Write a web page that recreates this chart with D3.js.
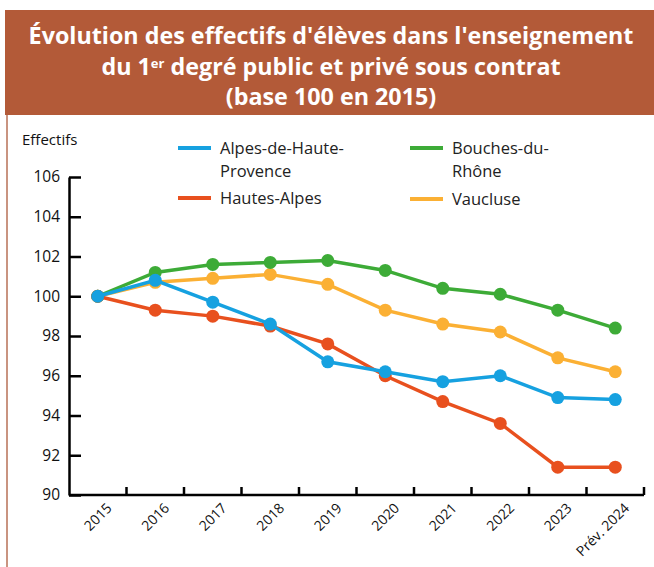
<!DOCTYPE html>
<html>
<head>
<meta charset="utf-8">
<script src="https://cdn.jsdelivr.net/npm/d3@7"></script>
<style>
  body { margin: 0; background: #fff; }
  svg { font-family: 'Open Sans', sans-serif; }
</style>
</head>
<body>
<svg width="654" height="567"></svg>
<script>
// Data
var years = ['2015', '2016', '2017', '2018', '2019', '2020', '2021', '2022', '2023', 'Prév. 2024'];
var alpesHauteProvence = [100, 100.8, 99.7, 98.6, 96.7, 96.2, 95.7, 96.0, 94.9, 94.8];
var hautesAlpes = [100, 99.3, 99.0, 98.5, 97.6, 96.0, 94.7, 93.6, 91.4, 91.4];
var bouchesDuRhone = [100, 101.2, 101.6, 101.7, 101.8, 101.3, 100.4, 100.1, 99.3, 98.4];
var vaucluse = [100, 100.7, 100.9, 101.1, 100.6, 99.3, 98.6, 98.2, 96.9, 96.2];
var yTicks = [90, 92, 94, 96, 98, 100, 102, 104, 106];

var series = [
    {name: ['Vaucluse'], values: vaucluse, color: '#fbb034'},
    {name: ['Bouches-du-', 'Rhône'], values: bouchesDuRhone, color: '#3dab37'},
    {name: ['Hautes-Alpes'], values: hautesAlpes, color: '#e8501e'},
    {name: ['Alpes-de-Haute-', 'Provence'], values: alpesHauteProvence, color: '#16a1e0'}
];

var svg = d3.select('svg');

// Title banner
svg.append('rect')
    .attr('x', 5).attr('y', 10)
    .attr('width', 649).attr('height', 105)
    .attr('fill', '#b35a38');

svg.append('line')
    .attr('x1', 7).attr('x2', 7)
    .attr('y1', 115).attr('y2', 567)
    .attr('stroke', '#c99480').attr('stroke-width', 2);

var title = svg.append('text')
    .attr('text-anchor', 'middle')
    .attr('fill', '#fff')
    .style('font-weight', 'bold')
    .style('font-size', '23.3px');
title.append('tspan').attr('x', 331).attr('y', 44)
    .text("Évolution des effectifs d'élèves dans l'enseignement");
var l2 = title.append('tspan').attr('x', 331).attr('y', 75);
l2.append('tspan').text('du 1');
l2.append('tspan').attr('dy', -7).style('font-size', '13px').text('er');
l2.append('tspan').attr('dy', 7).text(' degré public et privé sous contrat');
title.append('tspan').attr('x', 331).attr('y', 105).text('(base 100 en 2015)');

// Scales
var xScale = d3.scaleBand().domain(years).range([69, 644]);
var yScale = d3.scaleLinear().domain([90, 106]).range([495, 177]);

// Y axis
var yAxis = svg.append('g')
    .attr('transform', 'translate(69,0)')
    .call(d3.axisLeft(yScale).tickValues(yTicks).tickSizeInner(-12).tickSizeOuter(0).tickPadding(9));
yAxis.select('.domain').attr('stroke-width', 2.5);
yAxis.selectAll('.tick line').attr('stroke-width', 2.5);
yAxis.selectAll('.tick text')
    .style('font-size', '15.5px')
    .style('font-family', "'Open Sans', sans-serif")
    .attr('fill', '#111');

svg.append('text')
    .attr('x', 22).attr('y', 145)
    .style('font-size', '15px')
    .attr('fill', '#111')
    .text('Effectifs');

// X axis (ticks on band boundaries)
var xg = svg.append('g');
xg.append('line')
    .attr('x1', 69).attr('x2', xScale.range()[1])
    .attr('y1', 495).attr('y2', 495)
    .attr('stroke', '#000').attr('stroke-width', 2.5);
var bounds = years.slice(1).map(function(d) { return xScale(d); }).concat([xScale.range()[1]]);
xg.selectAll('.xtick').data(bounds).enter().append('line')
    .attr('x1', function(d) { return d; })
    .attr('x2', function(d) { return d; })
    .attr('y1', 495).attr('y2', 487)
    .attr('stroke', '#000').attr('stroke-width', 2.5);
xg.selectAll('.xlabel').data(years).enter().append('text')
    .attr('text-anchor', 'end')
    .attr('transform', function(d) {
        return 'translate(' + [xScale(d) + xScale.bandwidth() / 2 + 15, 509] + ') rotate(-45)';
    })
    .style('font-size', '14px')
    .attr('fill', '#111')
    .text(function(d) { return d; });

// Lines
var line = d3.line()
    .x(function(d, i) { return xScale(years[i]) + xScale.bandwidth() / 2; })
    .y(function(d) { return yScale(d); });

var lineG = svg.selectAll('.serie').data(series).enter().append('g')
    .attr('class', 'serie');
lineG.append('path')
    .attr('d', function(d) { return line(d.values); })
    .attr('fill', 'none')
    .attr('stroke', function(d) { return d.color; })
    .attr('stroke-width', 3.5);
lineG.selectAll('circle').data(function(d) {
        return d.values.map(function(v, i) { return {v: v, i: i, color: d.color}; });
    })
    .enter().append('circle')
    .attr('cx', function(d) { return xScale(years[d.i]) + xScale.bandwidth() / 2; })
    .attr('cy', function(d) { return yScale(d.v); })
    .attr('r', 6.5)
    .attr('fill', function(d) { return d.color; });

// Legend
var legendPos = [
    {s: 3, x: 178, y: 148},
    {s: 2, x: 178, y: 198},
    {s: 1, x: 410, y: 148},
    {s: 0, x: 410, y: 199}
];
var leg = svg.selectAll('.legend').data(legendPos).enter().append('g')
    .attr('class', 'legend')
    .attr('transform', function(d) { return 'translate(' + [d.x, d.y] + ')'; });
leg.append('line')
    .attr('x1', 0).attr('x2', 33)
    .attr('stroke', function(d) { return series[d.s].color; })
    .attr('stroke-width', 4);
leg.append('text')
    .attr('x', 42).attr('y', 6)
    .style('font-size', '16.5px')
    .attr('fill', '#222')
    .selectAll('tspan').data(function(d) { return series[d.s].name; })
    .enter().append('tspan')
    .attr('x', 42)
    .attr('dy', function(d, i) { return i ? 22.5 : 0; })
    .text(function(d) { return d; });
</script>
</body>
</html>
